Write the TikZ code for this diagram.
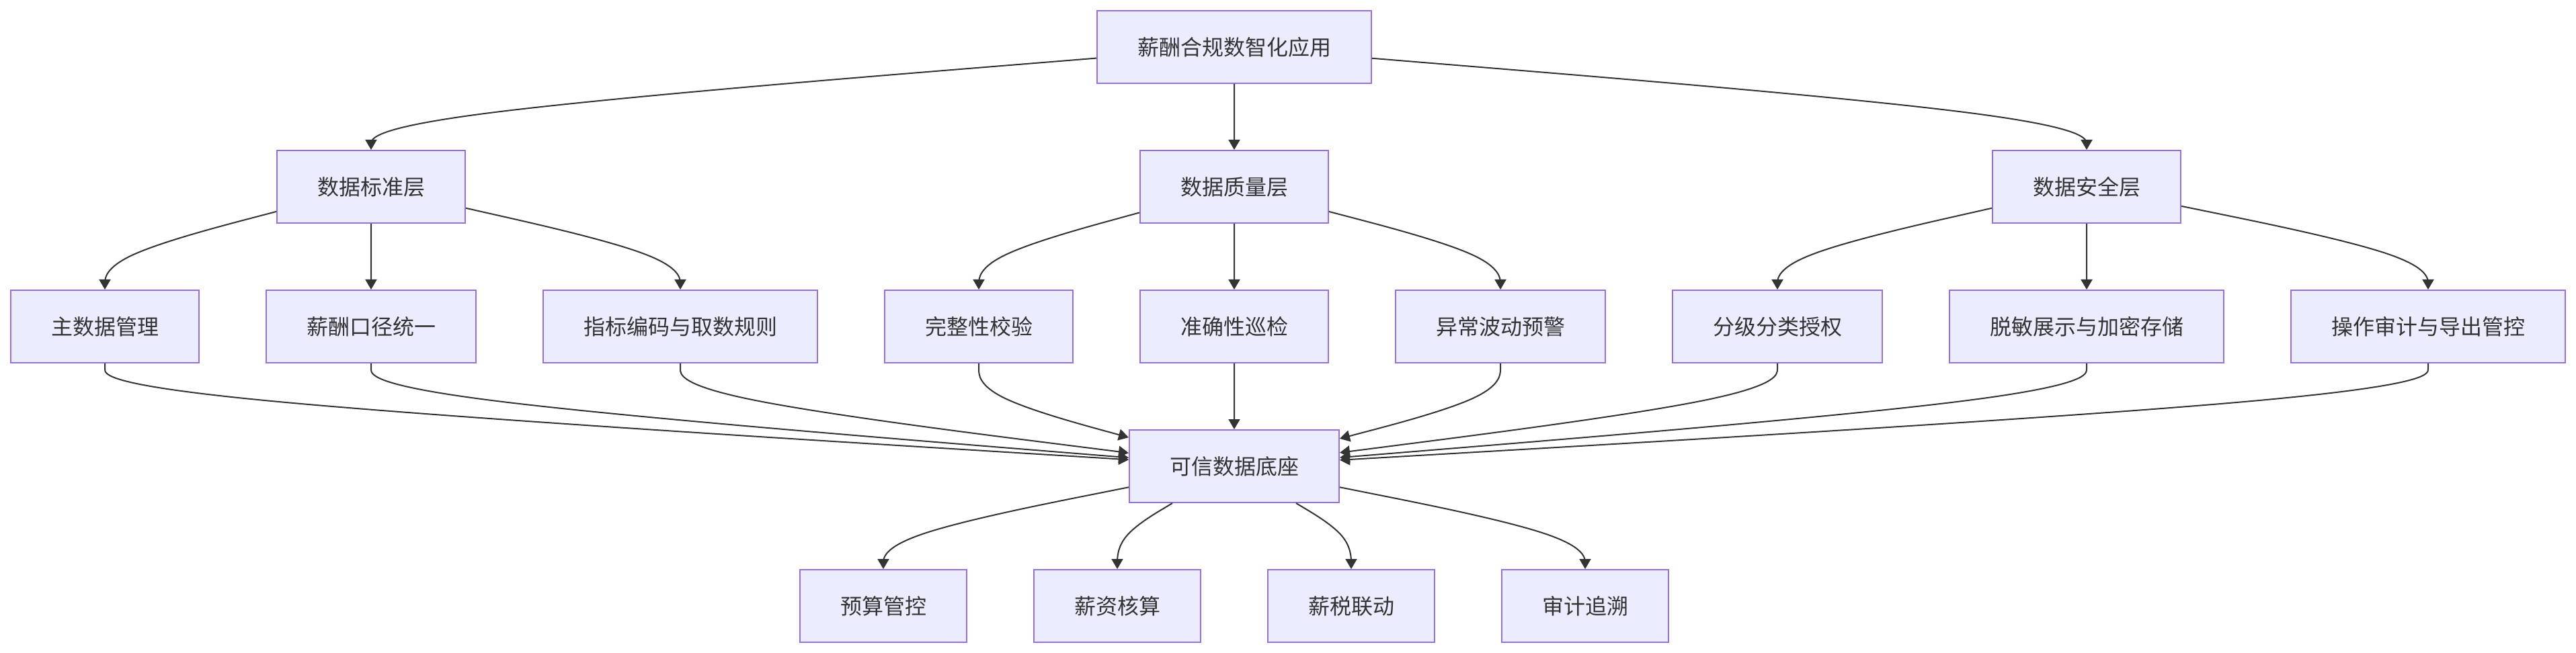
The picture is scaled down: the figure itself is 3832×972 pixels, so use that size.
\documentclass[tikz,border=0pt]{standalone}
\usepackage{fontspec}
\newfontfamily\cjk{Noto Sans CJK SC}
\usetikzlibrary{arrows.meta,calc}
\definecolor{boxfill}{HTML}{ECECFF}
\definecolor{boxline}{HTML}{9370DB}
\definecolor{edgec}{HTML}{333333}
\newcommand\bsp[3]{%
  \path (#1) -- #3 coordinate[pos=0] (bA);
  \path #3 -- (#2) coordinate[pos=1] (bC);
  \draw[edge] (#1) -- ($(bA)!0.1666667!#3$)
    .. controls ($(bA)!0.3333333!#3$) and ($(bA)!0.6666667!#3$) ..
    ($0.1666667*(bA)+0.6666667*#3+0.1666667*(bC)$)
    .. controls ($#3!0.3333333!(bC)$) and ($#3!0.6666667!(bC)$) ..
    ($#3!0.8333333!(bC)$) -- (#2);
}
\begin{document}
\begin{tikzpicture}[x=0.5pt,y=-0.5pt,
  box/.style={draw=boxline,fill=boxfill,line width=1pt,inner sep=0pt,
    minimum height=54pt,text=edgec,font=\cjk\fontsize{16pt}{19pt}\selectfont},
  w4/.style={box,minimum width=124pt},
  w5/.style={box,minimum width=140pt},
  w6/.style={box,minimum width=156pt},
  w9/.style={box,minimum width=204pt},
  edge/.style={draw=edgec,line width=1pt,-{Triangle[length=7.5pt,width=8.5pt]}}]
\useasboundingbox (0,0) rectangle (3832,972);
% row 1
\node[w9] (top) at (1836,70) {薪酬合规数智化应用};
% row 2
\node[w5] (std) at (552,278) {数据标准层};
\node[w5] (qual) at (1836,278) {数据质量层};
\node[w5] (sec) at (3104,278) {数据安全层};
% row 3
\node[w5] (m1) at (156,486) {主数据管理};
\node[w6] (m2) at (552,486) {薪酬口径统一};
\node[w9] (m3) at (1012,486) {指标编码与取数规则};
\node[w5] (q1) at (1456,486) {完整性校验};
\node[w5] (q2) at (1836,486) {准确性巡检};
\node[w6] (q3) at (2232,486) {异常波动预警};
\node[w6] (s1) at (2644,486) {分级分类授权};
\node[w9] (s2) at (3104,486) {脱敏展示与加密存储};
\node[w9] (s3) at (3612,486) {操作审计与导出管控};
% row 4
\node[w6] (base) at (1836,694) {可信数据底座};
% row 5
\node[w4] (r1) at (1314,902) {预算管控};
\node[w4] (r2) at (1662,902) {薪资核算};
\node[w4] (r3) at (2010,902) {薪税联动};
\node[w4] (r4) at (2358,902) {审计追溯};
% edges
\bsp{top}{std}{(552,174)}
\bsp{top}{qual}{(1836,174)}
\bsp{top}{sec}{(3104,174)}
\bsp{std}{m1}{(156,382)}
\bsp{std}{m2}{(552,382)}
\bsp{std}{m3}{(1012,382)}
\bsp{qual}{q1}{(1456,382)}
\bsp{qual}{q2}{(1836,382)}
\bsp{qual}{q3}{(2232,382)}
\bsp{sec}{s1}{(2644,382)}
\bsp{sec}{s2}{(3104,382)}
\bsp{sec}{s3}{(3612,382)}
\bsp{m1}{base}{(156,590)}
\bsp{m2}{base}{(552,590)}
\bsp{m3}{base}{(1012,590)}
\bsp{q1}{base}{(1456,590)}
\bsp{q2}{base}{(1836,590)}
\bsp{q3}{base}{(2232,590)}
\bsp{s1}{base}{(2644,590)}
\bsp{s2}{base}{(3104,590)}
\bsp{s3}{base}{(3612,590)}
\bsp{base}{r1}{(1314,798)}
\bsp{base}{r2}{(1662,798)}
\bsp{base}{r3}{(2010,798)}
\bsp{base}{r4}{(2358,798)}
\end{tikzpicture}
\end{document}
